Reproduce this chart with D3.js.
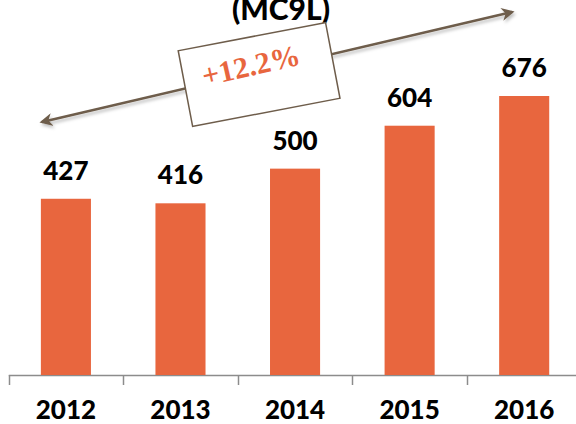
<!DOCTYPE html>
<meta charset="utf-8">
<script src="https://d3js.org/d3.v7.min.js"></script>
<style>
    body { margin: 0; padding: 0; background: #fff; }
    svg { display: block; }
    .lbl { font-family: Lato, "Open Sans", sans-serif; font-weight: 900; fill: #000; }
</style>
<body></body>
<script>
var years = ["2012", "2013", "2014", "2015", "2016"];
var values = [427, 416, 500, 604, 676];
var title = "(MC9L)";
var growth = "+12.2%";

var width = 576, height = 424;
var base = 375;

var svg = d3.select("body").append("svg")
    .attr("width", width)
    .attr("height", height);

var x = d3.scaleBand()
    .domain(years)
    .range([8.8, 8.8 + 114.5 * 5])
    .paddingInner(0.563)
    .paddingOuter(0.28);

var y = d3.scaleLinear()
    .domain([0, 676])
    .range([base, base - 279]);

// axis line + ticks between categories
var bounds = d3.range(years.length + 1).map(function (i) { return 8.8 + 114.5 * i; });
svg.append("line")
    .attr("x1", bounds[0]).attr("x2", width)
    .attr("y1", base + 0.5).attr("y2", base + 0.5)
    .attr("stroke", "#8c8c8c").attr("stroke-width", 1.5);
svg.selectAll(".tick").data(bounds).enter().append("line")
    .attr("x1", function (d) { return Math.round(d) + 0.5; })
    .attr("x2", function (d) { return Math.round(d) + 0.5; })
    .attr("y1", base).attr("y2", base + 10)
    .attr("stroke", "#8c8c8c").attr("stroke-width", 1.5);

svg.selectAll(".bar").data(values).enter().append("rect")
    .attr("x", function (d, i) { return x(years[i]); })
    .attr("width", x.bandwidth())
    .attr("y", function (d) { return y(d); })
    .attr("height", function (d) { return base - y(d); })
    .attr("fill", "#e8663e");

svg.selectAll(".val").data(values).enter().append("text")
    .attr("class", "lbl")
    .attr("x", function (d, i) { return x(years[i]) + x.bandwidth() / 2; })
    .attr("y", function (d) { return y(d) - 19; })
    .attr("text-anchor", "middle")
    .attr("font-size", 26)
    .text(function (d) { return d; });

svg.selectAll(".yr").data(years).enter().append("text")
    .attr("class", "lbl")
    .attr("x", function (d) { return x(d) + x.bandwidth() / 2; })
    .attr("y", 419)
    .attr("text-anchor", "middle")
    .attr("font-size", 26)
    .text(function (d) { return d; });

svg.append("text")
    .attr("class", "lbl")
    .attr("x", 281)
    .attr("y", 20)
    .attr("text-anchor", "middle")
    .attr("font-size", 30)
    .text(title);

// growth arrow
var defs = svg.append("defs");
defs.append("filter").attr("id", "sh")
    .append("feDropShadow").attr("dx", 1.5).attr("dy", 2.5).attr("stdDeviation", 1.5)
    .attr("flood-color", "#000").attr("flood-opacity", 0.25);
defs.append("marker")
    .attr("id", "ah").attr("viewBox", "0 0 10 10")
    .attr("refX", 8).attr("refY", 5)
    .attr("markerWidth", 5).attr("markerHeight", 5)
    .attr("orient", "auto-start-reverse")
    .append("path").attr("d", "M0,0 L10,5 L0,10 L3,5 Z").attr("fill", "#6e5d4b");

svg.append("line")
    .attr("x1", 42).attr("y1", 122)
    .attr("x2", 512).attr("y2", 12)
    .attr("stroke", "#6e5d4b").attr("stroke-width", 2.6)
    .attr("marker-start", "url(#ah)").attr("marker-end", "url(#ah)")
    .attr("filter", "url(#sh)");

var box = svg.append("g").attr("transform", "translate(259,74) rotate(-10.8)");
box.append("rect")
    .attr("x", -75).attr("y", -38)
    .attr("width", 150).attr("height", 77)
    .attr("fill", "#fff")
    .attr("stroke", "#6e5d4b").attr("stroke-width", 1.5);
box.append("text")
    .attr("x", -6).attr("y", 0)
    .attr("text-anchor", "middle")
    .attr("font-family", "'Liberation Serif', 'DejaVu Serif', serif")
    .attr("font-weight", 700)
    .attr("font-size", 30)
    .attr("fill", "#e8663e")
    .attr("transform", "rotate(-2)")
    .text(growth);
</script>
